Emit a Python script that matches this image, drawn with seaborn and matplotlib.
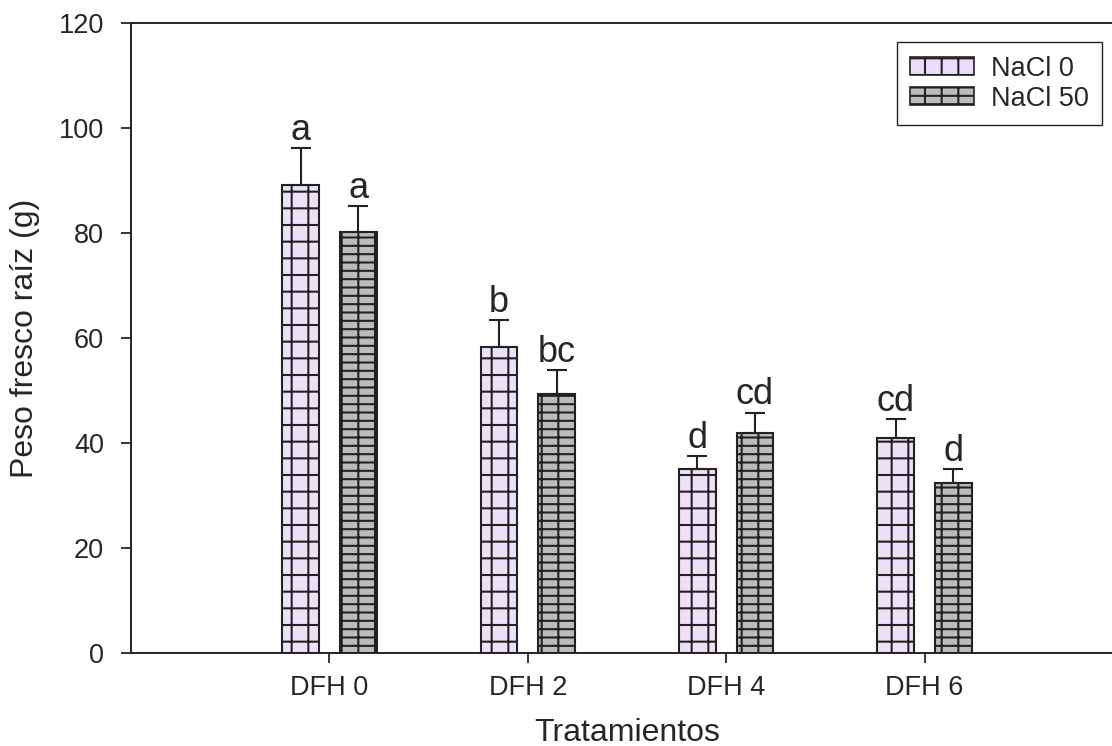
import pandas as pd
import seaborn as sns
import matplotlib.pyplot as plt
from matplotlib.patches import Patch

# Datos
tratamientos = ["DFH 0", "DFH 2", "DFH 4", "DFH 6"]
niveles = ["NaCl 0", "NaCl 50"]
media_nacl0 = [89.1, 58.2, 35.0, 40.9]
media_nacl50 = [80.2, 49.3, 42.0, 32.4]
error_nacl0 = [7.0, 5.2, 2.5, 3.6]
error_nacl50 = [4.9, 4.6, 3.8, 2.6]
letras_nacl0 = ["a", "b", "d", "cd"]
letras_nacl50 = ["a", "bc", "cd", "d"]

colores = ["#ecdcfa", "#bcbcbc"]
tramas = ["+", "--|"]

df = pd.DataFrame({
    "Tratamiento": tratamientos * 2,
    "NaCl": [niveles[0]] * 4 + [niveles[1]] * 4,
    "Peso": media_nacl0 + media_nacl50,
})

sns.set_style("ticks")
plt.rcParams["font.family"] = ["Liberation Sans", "DejaVu Sans"]
plt.rcParams["hatch.linewidth"] = 1.5

fig = plt.figure(figsize=(11.12, 7.46), dpi=100)
ax = fig.add_axes([131 / 1112, 93 / 746, 992 / 1112, 630 / 746])

sns.barplot(data=df, x="Tratamiento", y="Peso", hue="NaCl", hue_order=niveles,
            palette=colores, width=0.58, gap=0.36, errorbar=None,
            edgecolor="#222222", linewidth=1.5, legend=False, ax=ax)

errores = [error_nacl0, error_nacl50]
letras = [letras_nacl0, letras_nacl50]
for cont, trama, err, let in zip(ax.containers, tramas, errores, letras):
    xs, ys = [], []
    for barra in cont:
        barra.set_hatch(trama)
        xs.append(barra.get_x() + barra.get_width() / 2)
        ys.append(barra.get_height())
    ax.errorbar(xs, ys, yerr=[[0] * len(err), err], fmt="none", ecolor="#222222",
                elinewidth=1.5, capsize=7.5, capthick=1.5)
    for x, y, e, t in zip(xs, ys, err, let):
        ax.text(x, y + e + 1.6, t, ha="center", va="baseline", fontsize=26)

ax.set_xlim(-1, 4)
ax.set_ylim(0, 120)
ax.set_yticks(range(0, 121, 20))
ax.set_xlabel("Tratamientos", fontsize=23, labelpad=12)
ax.set_ylabel("Peso fresco raíz (g)", fontsize=23, labelpad=13)
ax.tick_params(axis="y", labelsize=19.5, direction="out", length=7.5, width=1.3, pad=12)
ax.tick_params(axis="x", labelsize=19.5, direction="out", length=7, width=1.3, pad=9)
for lado in ["left", "bottom", "top", "right"]:
    ax.spines[lado].set_visible(True)
    ax.spines[lado].set_linewidth(1.4)
    ax.spines[lado].set_color("#222222")

manijas = [Patch(facecolor=c, edgecolor="#222222", hatch=h, linewidth=1.2)
           for c, h in zip(colores, tramas)]
ax.legend(manijas, niveles, loc="upper right", bbox_to_anchor=(1102 / 1112, 1 - 42 / 746),
          bbox_transform=fig.transFigure, borderaxespad=0, fontsize=19.5,
          handlelength=2.33, handleheight=0.63, handletextpad=0.63, fancybox=False,
          edgecolor="#222222", framealpha=1, borderpad=0.5, labelspacing=0.15)

fig.savefig("out.png", dpi=100)
